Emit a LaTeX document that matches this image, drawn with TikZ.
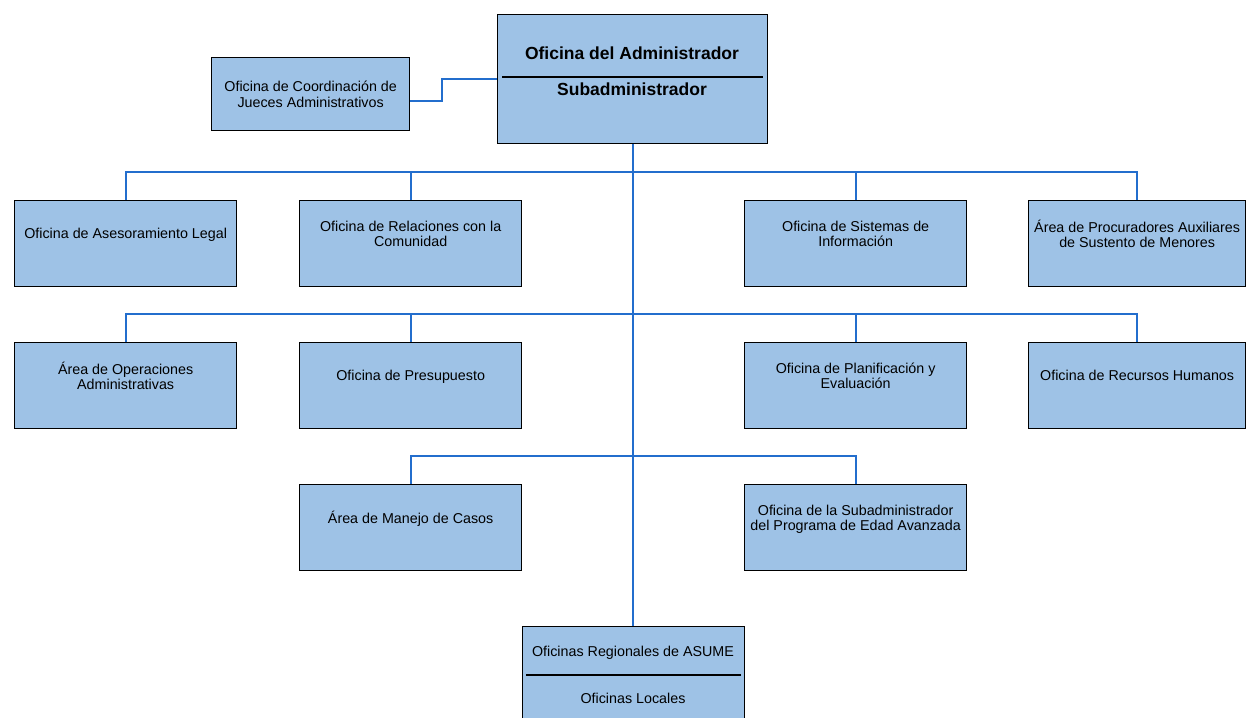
\documentclass[tikz,border=0pt]{standalone}
\usepackage{fontspec}
\setmainfont{Liberation Sans}
\definecolor{boxblue}{RGB}{158,194,230}
\definecolor{linkblue}{RGB}{35,110,205}

\begin{document}
\begin{tikzpicture}[x=1pt,y=-1pt,
	unit/.style={draw=black,line width=1.3pt,fill=boxblue,anchor=north west,
		minimum width=222pt,minimum height=86pt,inner sep=2pt,align=center,
		font=\fontsize{14.3}{15.5}\selectfont,text depth=20pt},
	side/.style={unit,minimum width=198pt,minimum height=73pt,text depth=,
		font=\fontsize{14.3}{16.5}\selectfont},
	chief/.style={unit,minimum width=270pt,minimum height=129pt},
	caption/.style={font=\fontsize{14.3}{15.5}\selectfont,inner sep=1pt},
	chieftext/.style={font=\fontsize{17.5}{20}\selectfont\bfseries,inner sep=1pt},
	rule/.style={draw=black,line width=1.2pt},
	link/.style={draw=linkblue,line width=2.2pt}]
	\useasboundingbox (0,0) rectangle (1246,717);
	\clip (0,0) rectangle (1246,717);

	% top
	\node[chief] (admin) at (497,14) {};
	\node[chieftext] (admintitle) at (632,53) {Oficina del Administrador};
	\node[chieftext] (adminsub) at (632,89) {Subadministrador};
	\draw[rule] ([shift={(5,63)}]admin.north west) -- ([shift={(-5,63)}]admin.north east);
	\node[side] (jueces) at (211,57) {Oficina de Coordinación de\\Jueces Administrativos};

	% first row
	\node[unit] (legal) at (14,200) {Oficina de Asesoramiento Legal};
	\node[unit] (comunidad) at (299,200) {Oficina de Relaciones con la\\Comunidad};
	\node[unit] (sistemas) at (744,200) {Oficina de Sistemas de\\Información};
	\node[unit,minimum width=217pt] (menores) at (1028,200) {Área de Procuradores Auxiliares\\de Sustento de Menores};

	% second row
	\node[unit] (operaciones) at (14,342) {Área de Operaciones\\Administrativas};
	\node[unit] (presupuesto) at (299,342) {Oficina de Presupuesto};
	\node[unit] (planificacion) at (744,342) {Oficina de Planificación y\\Evaluación};
	\node[unit,minimum width=217pt] (rrhh) at (1028,342) {Oficina de Recursos Humanos};

	% third row
	\node[unit] (casos) at (299,484) {Área de Manejo de Casos};
	\node[unit] (edad) at (744,484) {Oficina de la Subadministrador\\del Programa de Edad Avanzada};

	% regional offices
	\node[unit,minimum height=120pt] (asume) at (522,626) {};
	\node[caption] (asumetitle) at (633,653) {Oficinas Regionales de ASUME};
	\node[caption] (asumesub) at (633,698) {Oficinas Locales};
	\draw[rule] ([shift={(4,49)}]asume.north west) -- ([shift={(-4,49)}]asume.north east);

	% connectors
	\coordinate (busA) at (632,172);
	\coordinate (busB) at (632,314);
	\coordinate (busC) at (632,456);
	\draw[link] ([yshift=-6.5pt]jueces.east) -- ++(32,0) |- (admin.west);
	\draw[link] (admin.south) -- (admin.south |- asume.north);
	\draw[link] (legal.north) |- (busA) -| (menores.north);
	\draw[link] (operaciones.north) |- (busB) -| (rrhh.north);
	\draw[link] (casos.north) |- (busC) -| (edad.north);
	\path[link]
	(comunidad.north) edge (comunidad.north |- busA)
	(sistemas.north) edge (sistemas.north |- busA)
	(presupuesto.north) edge (presupuesto.north |- busB)
	(planificacion.north) edge (planificacion.north |- busB);
\end{tikzpicture}
\end{document}
